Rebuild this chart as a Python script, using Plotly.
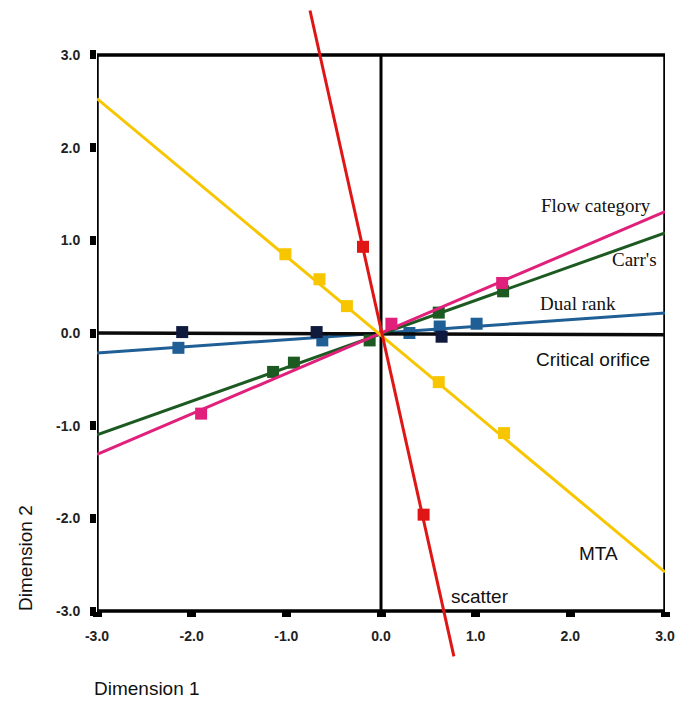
import plotly.graph_objects as go

# ---- data ----
tick_vals = [-3, -2, -1, 0, 1, 2, 3]
tick_text = ["-3.0", "-2.0", "-1.0", "0.0", "1.0", "2.0", "3.0"]

series_names = ["Flow category", "Carr's", "Dual rank", "Critical orifice", "MTA", "scatter"]

flow_x = [-1.90, 0.11, 1.28]
flow_y = [-0.87, 0.10, 0.54]
flow_line_x = [-3.0, 3.0]
flow_line_y = [-1.31, 1.31]

carr_x = [-1.14, -0.92, -0.12, 0.61, 1.29]
carr_y = [-0.42, -0.32, -0.08, 0.22, 0.45]
carr_line_x = [-3.0, 3.0]
carr_line_y = [-1.10, 1.08]

dual_x = [-2.14, -0.62, 0.30, 0.62, 1.01]
dual_y = [-0.16, -0.08, 0.00, 0.07, 0.10]
dual_line_x = [-3.0, 3.0]
dual_line_y = [-0.215, 0.215]

crit_x = [-2.10, -0.68, 0.64]
crit_y = [0.01, 0.01, -0.04]
crit_line_x = [-3.0, 3.0]
crit_line_y = [0.0, -0.02]

mta_x = [-1.01, -0.65, -0.36, 0.61, 1.30]
mta_y = [0.85, 0.58, 0.29, -0.53, -1.08]
mta_line_x = [-3.0, 3.0]
mta_line_y = [2.53, -2.58]

scat_x = [-0.19, 0.45]
scat_y = [0.93, -1.96]
scat_line_x = [-0.75, 0.77]
scat_line_y = [3.48, -3.49]

label_x = [2.27, 2.68, 2.08, 2.24, 2.30, 1.05]
label_y = [1.38, 0.79, 0.32, -0.29, -2.38, -2.84]
label_serif = [True, True, True, False, False, False]

colors = {
    "flow": "#e0207a",
    "carr": "#1d5a22",
    "dual": "#1f5f95",
    "crit_line": "#0a0a0a",
    "crit_mk": "#101a3c",
    "mta": "#f7c600",
    "scat": "#e01515",
}

fig = go.Figure()

def add_series(lx, ly, mx, my, lcol, mcol, lw=3):
    fig.add_trace(go.Scatter(x=lx, y=ly, mode="lines",
                             line=dict(color=lcol, width=lw),
                             showlegend=False, hoverinfo="skip"))
    fig.add_trace(go.Scatter(x=mx, y=my, mode="markers",
                             marker=dict(symbol="square", size=12, color=mcol),
                             showlegend=False))

add_series(dual_line_x, dual_line_y, dual_x, dual_y, colors["dual"], colors["dual"])
add_series(crit_line_x, crit_line_y, crit_x, crit_y, colors["crit_line"], colors["crit_mk"], lw=3.5)
add_series(carr_line_x, carr_line_y, carr_x, carr_y, colors["carr"], colors["carr"])
add_series(flow_line_x, flow_line_y, flow_x, flow_y, colors["flow"], colors["flow"])
add_series(mta_line_x, mta_line_y, mta_x, mta_y, colors["mta"], colors["mta"])
add_series(scat_line_x, scat_line_y, scat_x, scat_y, colors["scat"], colors["scat"])

# frame and vertical zero axis
fig.add_shape(type="rect", x0=-3, x1=3, y0=-3, y1=3,
              line=dict(color="black", width=3.5), layer="below")
fig.add_shape(type="line", x0=0, x1=0, y0=-3, y1=3,
              line=dict(color="black", width=3), layer="below")

for name, x, y, serif in zip(series_names, label_x, label_y, label_serif):
    fig.add_annotation(x=x, y=y, text=name, showarrow=False,
                       xanchor="center", yanchor="middle",
                       font=dict(family="Liberation Serif" if serif else "Liberation Sans",
                                 size=19, color="#111"))

fig.add_annotation(xref="paper", yref="paper", x=0.088, y=-0.040,
                   xanchor="center", yanchor="middle",
                   text="Dimension 1", showarrow=False,
                   font=dict(family="Liberation Sans", size=19, color="#111"))
fig.add_annotation(xref="paper", yref="paper", x=-0.127, y=0.158,
                   xanchor="center", yanchor="middle",
                   text="Dimension 2", showarrow=False, textangle=-90,
                   font=dict(family="Liberation Sans", size=19, color="#111"))

yr = [-3.55, 3.55]
pos = (-3 - yr[0]) / (yr[1] - yr[0])

fig.update_layout(
    width=685, height=701,
    margin=dict(l=97, r=20, t=4, b=39),
    paper_bgcolor="white", plot_bgcolor="white",
    xaxis=dict(range=[-3, 3], tickvals=tick_vals, ticktext=tick_text,
               showgrid=False, zeroline=False, showline=False,
               ticks="outside", ticklen=5, tickwidth=9, tickcolor="black",
               anchor="free", position=pos, ticklabelstandoff=7,
               tickfont=dict(family="Liberation Sans", size=14, color="#222", weight="bold")),
    yaxis=dict(range=yr, tickvals=tick_vals, ticktext=tick_text,
               showgrid=False, zeroline=False, showline=False,
               ticks="outside", ticklen=6, tickwidth=9, tickcolor="black",
               ticklabelstandoff=7,
               tickfont=dict(family="Liberation Sans", size=14, color="#222", weight="bold")),
)

fig.write_html("out.html")
